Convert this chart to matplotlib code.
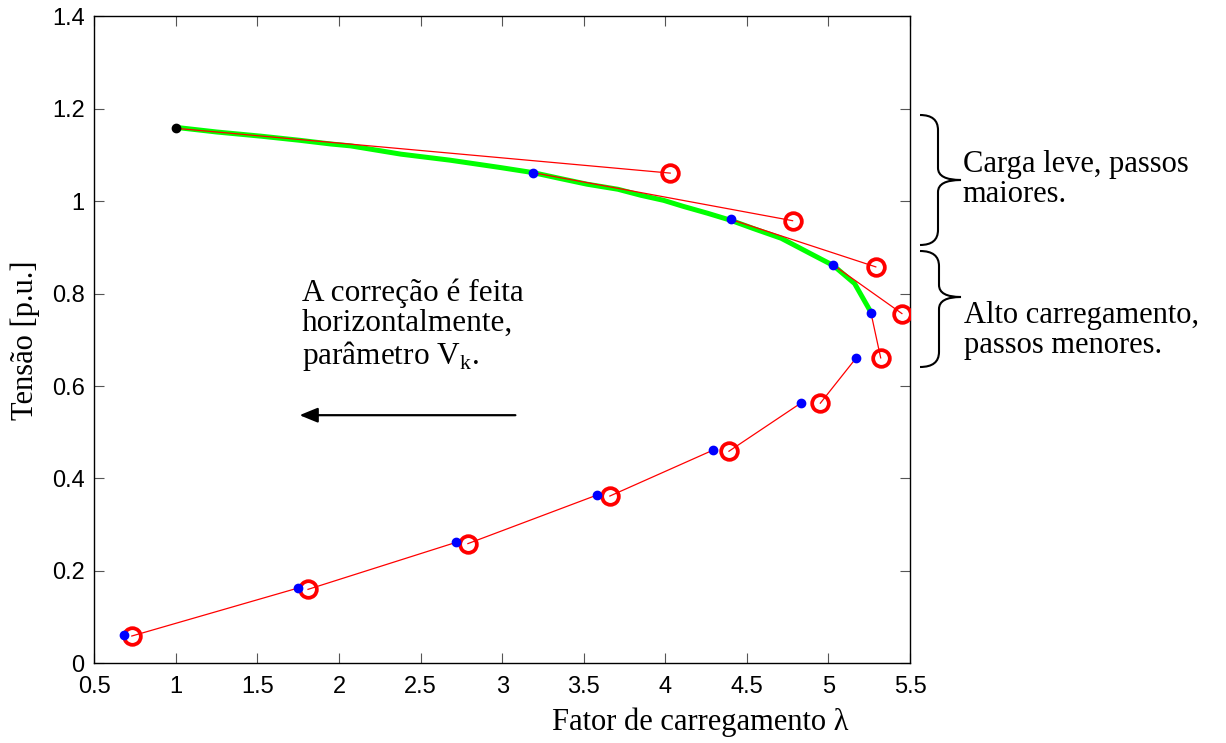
import matplotlib
matplotlib.use("Agg")
import matplotlib.pyplot as plt
from matplotlib.path import Path
import matplotlib.patches as mpatches

plt.rcParams['font.family'] = ['Liberation Sans', 'DejaVu Sans']
plt.rcParams['mathtext.fontset'] = 'custom'
plt.rcParams['mathtext.rm'] = 'Liberation Serif'

# ponto inicial
lam0 = 1.0
v0 = 1.158

# curva exata (verde)
lam_exact = [1.0, 1.25, 1.52, 1.76, 1.95, 2.07, 2.38, 2.68, 2.99, 3.19, 3.36, 3.52,
             3.71, 3.85, 3.99, 4.11, 4.26, 4.40, 4.54, 4.71, 4.91, 5.03, 5.16, 5.26]
v_exact = [1.160, 1.150, 1.141, 1.132, 1.124, 1.120, 1.102, 1.089, 1.073, 1.062, 1.049, 1.037,
           1.026, 1.013, 1.002, 0.989, 0.974, 0.959, 0.941, 0.920, 0.883, 0.861, 0.822, 0.760]

# preditor (circulos vermelhos)
lam_pred = [4.03, 4.78, 5.29, 5.45, 5.32, 4.95, 4.39, 3.66, 2.79, 1.81, 0.73]
v_pred = [1.061, 0.958, 0.858, 0.757, 0.661, 0.563, 0.459, 0.362, 0.259, 0.160, 0.059]

# corretor (pontos azuis)
lam_corr = [3.19, 4.40, 5.03, 5.26, 5.17, 4.83, 4.29, 3.58, 2.72, 1.75, 0.68]
v_corr = [1.062, 0.961, 0.862, 0.759, 0.661, 0.563, 0.461, 0.364, 0.262, 0.163, 0.062]

fig = plt.figure(figsize=(12.26, 7.43), dpi=100)
ax = fig.add_axes([0.0769, 0.1073, 0.6654, 0.8705])

ax.plot(lam_exact, v_exact, color=(0, 1, 0), lw=3.6, solid_capstyle='round', zorder=2)

xs = [lam0] + lam_corr[:-1]
ys = [v0] + v_corr[:-1]
for i in range(len(lam_pred)):
    ax.plot([xs[i], lam_pred[i]], [ys[i], v_pred[i]], color='red', lw=0.9, zorder=3)

ax.plot(lam_pred, v_pred, 'o', ls='none', mfc='none', mec='red', ms=12, mew=2.7, zorder=4)
ax.plot(lam_corr, v_corr, 'o', ls='none', color='blue', ms=6, zorder=5)
ax.plot([lam0], [v0], 'o', color='black', ms=6, zorder=5)

ax.set_xlim(0.5, 5.5)
ax.set_ylim(0, 1.4)
ax.set_xticks([0.5, 1, 1.5, 2, 2.5, 3, 3.5, 4, 4.5, 5, 5.5])
ax.set_xticklabels(['0.5', '1', '1.5', '2', '2.5', '3', '3.5', '4', '4.5', '5', '5.5'])
ax.set_yticks([0, 0.2, 0.4, 0.6, 0.8, 1.0, 1.2, 1.4])
ax.set_yticklabels(['0', '0.2', '0.4', '0.6', '0.8', '1', '1.2', '1.4'])
ax.tick_params(direction='in', length=7, width=0.8, color='#555555', labelsize=17,
               top=True, right=True)
ax.tick_params(axis='x', pad=9)
ax.tick_params(axis='y', pad=7)
for s in ax.spines.values():
    s.set_linewidth(1.0)

ax.set_xlabel('Fator de carregamento λ', family='Liberation Serif', fontsize=22)
ax.xaxis.set_label_coords(0.7426, -0.068)
ax.set_ylabel('Tensão [p.u.]', family='Liberation Serif', fontsize=22)
ax.yaxis.set_label_coords(-0.066, 0.5)

ax.text(1.772, 0.648, 'A correção é feita\nhorizontalmente,\nparâmetro V$_\\mathrm{k}$.',
        family='Liberation Serif', fontsize=22.5, va='baseline', ha='left',
        linespacing=1.05, transform=ax.transData)
ax.annotate('', xy=(1.758, 0.537), xytext=(3.081, 0.537),
            arrowprops=dict(arrowstyle='-|>,head_length=1.1,head_width=0.45',
                            color='black', lw=1.6, shrinkA=0, shrinkB=0))


def brace(x_end, x_spine, x_tip, y_top, y_tip, y_bot):
    W, H = 1226.0, 743.0
    pts = [(x_end, y_top), (x_spine, y_top), (x_spine, y_top + 15), (x_spine, y_top + 15),
           (x_spine, y_tip - 12),
           (x_spine, y_tip), (x_tip, y_tip),
           (x_spine, y_tip), (x_spine, y_tip + 12),
           (x_spine, y_bot - 15),
           (x_spine, y_bot), (x_end, y_bot)]
    codes = [Path.MOVETO, Path.CURVE3, Path.CURVE3, Path.LINETO,
             Path.LINETO,
             Path.CURVE3, Path.CURVE3,
             Path.CURVE3, Path.CURVE3,
             Path.LINETO,
             Path.CURVE3, Path.CURVE3]
    verts = [(x / W, 1 - y / H) for x, y in pts]
    p = mpatches.PathPatch(Path(verts, codes), fill=False, lw=1.5, color='black',
                           transform=fig.transFigure)
    fig.patches.append(p)


brace(920, 938, 961, 115, 180, 245)
brace(920, 939, 961, 251, 297, 367)

fig.text(962.7 / 1226, 1 - 202 / 743, 'Carga leve, passos\nmaiores.', family='Liberation Serif',
         fontsize=22, va='baseline', ha='left', linespacing=1.05)
fig.text(964 / 1226, 1 - 353 / 743, 'Alto carregamento,\npassos menores.', family='Liberation Serif',
         fontsize=22, va='baseline', ha='left', linespacing=1.05)

fig.savefig('out.png', dpi=100)
